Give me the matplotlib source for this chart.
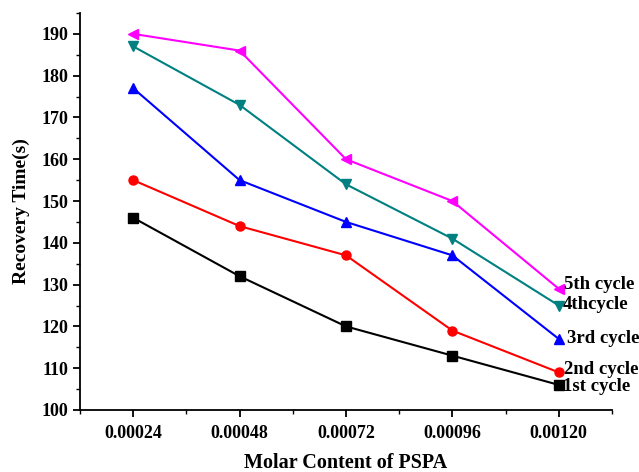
import matplotlib
matplotlib.use("Agg")
import matplotlib.pyplot as plt
from matplotlib.ticker import MultipleLocator

x = [0.00024, 0.00048, 0.00072, 0.00096, 0.00120]
cycle1 = [146, 132, 120, 113, 106]
cycle2 = [155, 144, 137, 119, 109]
cycle3 = [177, 155, 145, 137, 117]
cycle4 = [187, 173, 154, 141, 125]
cycle5 = [190, 186, 160, 150, 129]
labels = ["1st cycle", "2nd cycle", "3rd cycle", "4thcycle", "5th cycle"]
x_ticklabels = ["0.00024", "0.00048", "0.00072", "0.00096", "0.00120"]

plt.rcParams['font.family'] = ['Liberation Serif', 'DejaVu Serif']
plt.rcParams['font.weight'] = 'bold'

fig = plt.figure(figsize=(6.39, 4.72), dpi=100)
ax = fig.add_axes([0.1252, 0.1314, 0.8325, 0.8411])

series = [cycle1, cycle2, cycle3, cycle4, cycle5]
colors = ['#000000', '#ff0000', '#0000ff', '#008080', '#ff00ff']
markers = ['s', 'o', '^', 'v', '<']
offsets = [(3, -1), (4, 2), (6, 0), (3, 1), (4, 3)]

for ys, c, m, lab, off in zip(series, colors, markers, labels, offsets):
    ax.plot(x, ys, color=c, marker=m, markersize=6.5, linewidth=1.5)
    ax.annotate(lab, xy=(x[-1], ys[-1]), xytext=off, textcoords='offset points',
                ha='left', va='center', fontsize=13.5, fontweight='bold')

ax.set_xlim(0.00012, 0.00132)
ax.set_ylim(100, 195)
ax.set_xticks(x)
ax.set_xticklabels(x_ticklabels)
ax.xaxis.set_minor_locator(MultipleLocator(0.00012))
ax.yaxis.set_major_locator(MultipleLocator(10))
ax.yaxis.set_minor_locator(MultipleLocator(5))

for s in ['top', 'right']:
    ax.spines[s].set_visible(False)
for s in ['left', 'bottom']:
    ax.spines[s].set_linewidth(1.3)

ax.tick_params(which='major', direction='out', length=5, width=1.3, labelsize=13)
ax.tick_params(which='minor', direction='out', length=3, width=1.0)
ax.tick_params(axis='x', which='major', pad=6)
for t in ax.get_xticklabels() + ax.get_yticklabels():
    t.set_fontweight('bold')

ax.set_xlabel("Molar Content of PSPA", fontsize=14.5, fontweight='bold', labelpad=8)
ax.set_ylabel("Recovery Time(s)", fontsize=14, fontweight='bold', labelpad=8)

fig.savefig("out.png", dpi=100)
